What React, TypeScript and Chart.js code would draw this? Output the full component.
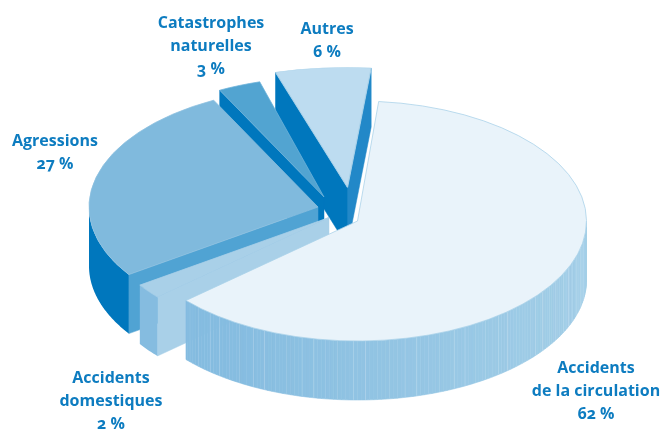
import React, { useEffect, useRef } from "react";
import { Chart, registerables } from "chart.js";

Chart.register(...registerables);

const categories = [
  "Accidents\nde la circulation",
  "Accidents\ndomestiques",
  "Agressions",
  "Catastrophes\nnaturelles",
  "Autres",
];
const values = [62, 2, 27, 3, 6];

const topColors = ["#e9f3fa", "#a9d0e8", "#80badd", "#52a4d1", "#bddcf0"];
const rimColors = ["#a8d1e9", "#a9d0e8", "#8cc0e0", "#6fb3da", "#a8d1e9"];
const outerWallColors = [null, "#85bce0", "#0077bd", "#0077bd", "#0077bd"];
const startWallColors = [null, "#a9d0e8", "#50a3d3", "#0077bd", "#0077bd"];
const endWallColors = [null, null, null, null, "#2288c8"];
const explodeX = [25.5, -3, -14, -8, 15.5];
const explodeY = [6.5, 3, -7.5, -17.5, -27];
const widen = [1, 1, 1, 1, 1.12];
const labelX = [596, 111, 55, 211, 327];
const labelY = [355.5, 366, 129, 11, 16.5];
const drawOrder = [4, 3, 2, 1, 0];
const stripeAlpha = [0.16, 0, 0.04, 0, 0.1, 0.02, 0, 0.07, 0, 0.03, 0.2, 0, 0.05];

const SQUASH = 0.524;
const DEPTH = 59;
const RADIUS = 229;
const FRONT_LEFT = [0x85, 0xbc, 0xe0];
const FRONT_RIGHT = [0xa2, 0xce, 0xe7];

const pie3d = {
  id: "pie3d",
  beforeDatasetDraw(chart: any, args: any) {
    const ctx: CanvasRenderingContext2D = chart.ctx;
    const arcs = args.meta.data;
    drawOrder.forEach((i) => {
      const arc = arcs[i];
      const ox = arc.x + explodeX[i];
      const oy = arc.y + explodeY[i];
      const r = arc.outerRadius;
      const px = (a: number) => ox + widen[i] * r * Math.cos(a);
      const py = (a: number) => oy + SQUASH * r * Math.sin(a);

      const cutWall = (a: number, color: string | null) => {
        if (!color) return;
        ctx.fillStyle = color;
        ctx.strokeStyle = color;
        ctx.lineWidth = 0.5;
        ctx.beginPath();
        ctx.moveTo(ox, oy);
        ctx.lineTo(px(a), py(a));
        ctx.lineTo(px(a), py(a) + DEPTH);
        ctx.lineTo(ox, oy + DEPTH);
        ctx.closePath();
        ctx.fill();
        ctx.stroke();
      };
      cutWall(arc.endAngle, endWallColors[i]);
      cutWall(arc.startAngle, startWallColors[i]);

      // outer rim: only the half that faces the viewer
      const from = Math.max(arc.startAngle, 0);
      const to = Math.min(arc.endAngle, Math.PI);
      if (to > from) {
        const solid = outerWallColors[i];
        if (solid) {
          ctx.fillStyle = solid;
          ctx.beginPath();
          for (let a = from; a < to; a += 0.01) ctx.lineTo(px(a), py(a));
          ctx.lineTo(px(to), py(to));
          ctx.lineTo(px(to), py(to) + DEPTH);
          for (let a = to; a > from; a -= 0.01) ctx.lineTo(px(a), py(a) + DEPTH);
          ctx.lineTo(px(from), py(from) + DEPTH);
          ctx.closePath();
          ctx.fill();
        } else {
          const step = Math.PI / 180;
          let n = 0;
          for (let a = from; a < to; a += step, n++) {
            const b = Math.min(a + step, to);
            const t = 1 - (px(a) - (ox - r)) / (2 * r);
            const mix = FRONT_RIGHT.map((c, k) => Math.round(c + (FRONT_LEFT[k] - c) * Math.min(1, t * 1.25)));
            ctx.fillStyle = `rgb(${mix.join(",")})`;
            ctx.strokeStyle = ctx.fillStyle;
            ctx.lineWidth = 0.6;
            ctx.beginPath();
            ctx.moveTo(px(a), py(a));
            ctx.lineTo(px(b), py(b));
            ctx.lineTo(px(b), py(b) + DEPTH);
            ctx.lineTo(px(a), py(a) + DEPTH);
            ctx.closePath();
            ctx.fill();
            ctx.stroke();
            const alpha = stripeAlpha[n % stripeAlpha.length];
            if (alpha > 0) {
              ctx.strokeStyle = `rgba(255,255,255,${alpha})`;
              ctx.lineWidth = 1;
              ctx.beginPath();
              ctx.moveTo(px(a), py(a));
              ctx.lineTo(px(a), py(a) + DEPTH);
              ctx.stroke();
            }
          }
        }
      }

      // top face: the library's own arc element, squashed into an ellipse
      ctx.save();
      ctx.translate(ox, oy);
      ctx.scale(widen[i], SQUASH);
      ctx.translate(-arc.x, -arc.y);
      arc.draw(ctx);
      ctx.restore();
    });
    return false;
  },
};

export default function App() {
  const ref = useRef<HTMLCanvasElement>(null);
  useEffect(() => {
    const chart = new Chart(ref.current!, {
      type: "pie",
      data: {
        labels: categories,
        datasets: [
          {
            data: values,
            backgroundColor: topColors,
            borderColor: rimColors,
            borderWidth: 1,
            clip: false,
          } as any,
        ],
      },
      options: {
        responsive: false,
        animation: false,
        rotation: 5.3,
        radius: RADIUS,
        layout: { padding: 0 },
        plugins: { legend: { display: false }, tooltip: { enabled: false } },
      },
      plugins: [pie3d as any],
    });
    return () => chart.destroy();
  }, []);

  return (
    <div style={{ position: "fixed", left: 0, top: 0, width: 664, height: 429, background: "#fff", overflow: "hidden" }}>
      <canvas ref={ref} width={664} height={429} style={{ position: "absolute", left: 0, top: 0 }} />
      {categories.map((c, i) => (
        <div
          key={c}
          style={{
            position: "absolute",
            left: labelX[i],
            top: labelY[i],
            transform: "translateX(-50%)",
            whiteSpace: "pre",
            textAlign: "center",
            font: '700 16px/23px "Open Sans", sans-serif',
            fontVariantNumeric: "oldstyle-nums",
            color: "#0d7cc0",
          }}
        >
          {`${c}\n${values[i]} %`}
        </div>
      ))}
    </div>
  );
}
